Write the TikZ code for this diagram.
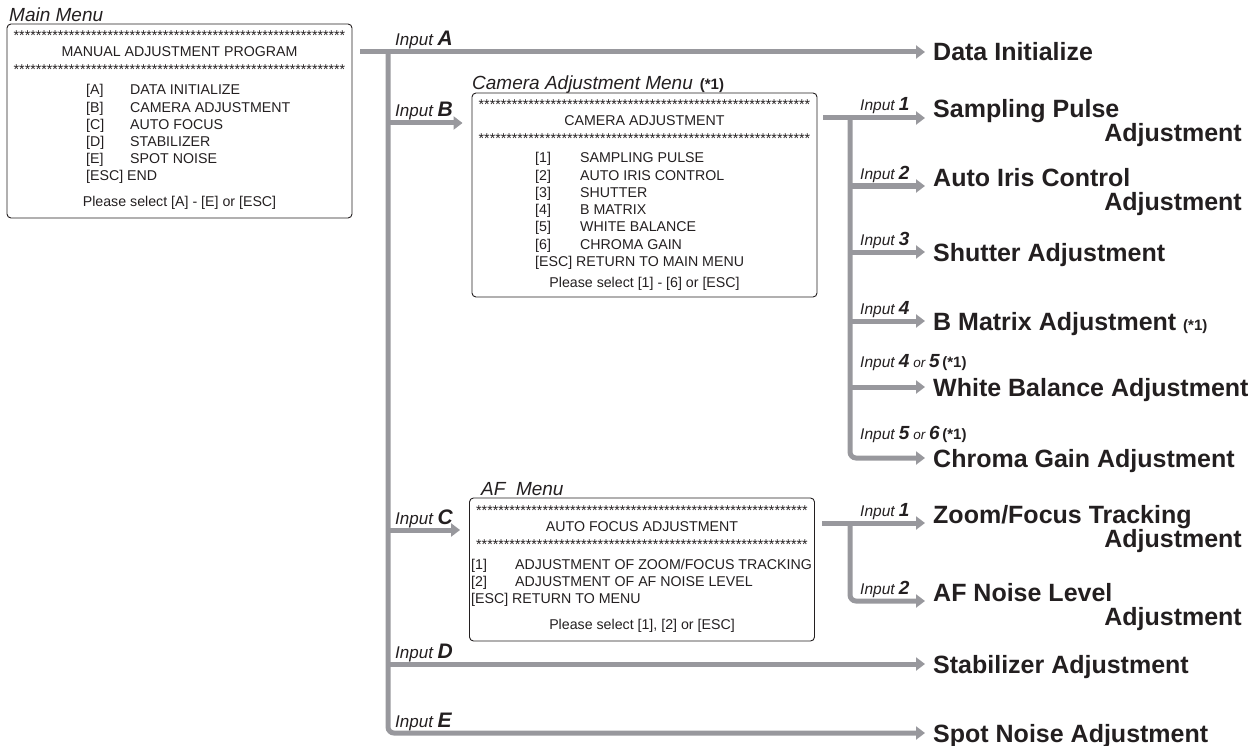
\documentclass[tikz,border=0pt]{standalone}
\usepackage{fontspec}
\setmainfont{Liberation Sans}
\usetikzlibrary{arrows.meta}
\definecolor{lineGray}{RGB}{152,152,157}
\definecolor{ink}{RGB}{35,31,32}
\newcommand\mfont{\fontsize{14.2}{17.2}\selectfont}
\newcommand\bfont{\fontsize{25}{25}\selectfont\bfseries}
\newcommand\tfont{\fontsize{19}{19}\selectfont\itshape}
\newcommand\starrow{************************************************************}
\newcommand\inL[1]{{\fontsize{17}{17}\selectfont\itshape Input }{\fontsize{21}{21}\selectfont\bfseries\itshape #1}}
\newcommand\inR[1]{{\fontsize{15.5}{15.5}\selectfont\itshape Input }{\fontsize{19}{19}\selectfont\bfseries\itshape #1}}
\newcommand\numR[1]{{\fontsize{19}{19}\selectfont\bfseries\itshape #1}}
\newcommand\orR{{\fontsize{13.5}{13.5}\selectfont\itshape\ or }}
\newcommand\noteR{{\fontsize{15}{15}\selectfont\bfseries (*1)}}
\begin{document}
\begin{tikzpicture}[x=1pt,y=-1pt,
  menubox/.style={draw=ink, line width=0.9pt, rounded corners=4pt, minimum width=345pt, inner sep=0pt},
  mtext/.style={anchor=base, inner sep=0pt, font=\mfont, text=ink},
  mlist/.style={anchor=base west, inner sep=0pt, font=\mfont, text=ink, align=left},
  conn/.style={draw=lineGray, line width=5pt},
  arr/.style={conn, -{Triangle[length=9pt,width=13pt]}},
  big/.style={anchor=west, inner xsep=8pt, inner ysep=0pt, text height=18pt, text depth=0pt, font=\bfont, text=ink},
  bigb/.style={anchor=base west, inner xsep=8pt, inner ysep=0pt, font=\bfont, text=ink},
  bige/.style={anchor=base east, inner sep=0pt, font=\bfont, text=ink},
  lbl/.style={anchor=base west, inner sep=0pt, text=ink}]
\useasboundingbox (0,0) rectangle (1257,746);

% ---------------- Main menu ----------------
\node[lbl, font=\tfont] (mLabel) at (9,22) {Main Menu};
\node[menubox, minimum height=194pt] (mainBox) at (179.5,121) {};
\node[mtext] (mS1) at (179.5,41) {\starrow};
\node[mtext] (mTitle) at (179.5,57) {MANUAL ADJUSTMENT PROGRAM};
\node[mtext] (mS2) at (179.5,75) {\starrow};
\node[mlist] (mList) at (86,95) {\begin{tabular}[t]{@{}p{44pt}@{}l@{}}
{[A]} & DATA INITIALIZE\\
{[B]} & CAMERA ADJUSTMENT\\
{[C]} & AUTO FOCUS\\
{[D]} & STABILIZER\\
{[E]} & SPOT NOISE\\
\multicolumn{2}{@{}l@{}}{[ESC] END}
\end{tabular}};
\node[mtext] (mPlease) at (179.5,207) {Please select [A] - [E] or [ESC]};

% ---------------- Camera menu ----------------
\node[lbl] (cLabel) at (472,90) {{\tfont Camera Adjustment Menu}\hspace{7pt}{\fontsize{15}{15}\selectfont\bfseries(*1)}};
\node[menubox, minimum height=204pt] (camBox) at (644.5,195) {};
\node[mtext] (cS1) at (644.5,110) {\starrow};
\node[mtext] (cTitle) at (644.5,126) {CAMERA ADJUSTMENT};
\node[mtext] (cS2) at (644.5,144) {\starrow};
\node[mlist] (cList) at (535,163) {\begin{tabular}[t]{@{}p{45pt}@{}l@{}}
{[1]} & SAMPLING PULSE\\
{[2]} & AUTO IRIS CONTROL\\
{[3]} & SHUTTER\\
{[4]} & B MATRIX\\
{[5]} & WHITE BALANCE\\
{[6]} & CHROMA GAIN\\
\multicolumn{2}{@{}l@{}}{[ESC] RETURN TO MAIN MENU}
\end{tabular}};
\node[mtext] (cPlease) at (644.5,287) {Please select [1] - [6] or [ESC]};

% ---------------- AF menu ----------------
\node[lbl, font=\tfont] (aLabel) at (481,495) {AF\ \ Menu};
\node[menubox, minimum height=143pt] (afBox) at (642,569.5) {};
\node[mtext] (aS1) at (642,515) {\starrow};
\node[mtext] (aTitle) at (642,531) {AUTO FOCUS ADJUSTMENT};
\node[mtext] (aS2) at (642,549) {\starrow};
\node[mlist] (aList) at (471,569) {\begin{tabular}[t]{@{}p{44pt}@{}l@{}}
{[1]} & ADJUSTMENT OF ZOOM/FOCUS TRACKING\\
{[2]} & ADJUSTMENT OF AF NOISE LEVEL\\
\multicolumn{2}{@{}l@{}}{[ESC] RETURN TO MENU}
\end{tabular}};
\node[mtext] (aPlease) at (642,629) {Please select [1], [2] or [ESC]};

% ---------------- Result labels ----------------
\node[big] (dataInit) at (925,52) {Data Initialize};
\node[bigb] (samp1) at (925,118) {Sampling Pulse};
\node[bige] (samp2) at (1242,142) {Adjustment};
\node[bigb] (iris1) at (925,186) {Auto Iris Control};
\node[bige] (iris2) at (1242,210) {Adjustment};
\node[big] (shut) at (925,252) {Shutter Adjustment};
\node[big] (bmat) at (925,321) {B Matrix Adjustment \noteR};
\node[big] (wb) at (925,387) {White Balance Adjustment};
\node[big] (chroma) at (925,458) {Chroma Gain Adjustment};
\node[bigb] (zf1) at (925,523) {Zoom/Focus Tracking};
\node[bige] (zf2) at (1242,547) {Adjustment};
\node[bigb] (afn1) at (925,601) {AF Noise Level};
\node[bige] (afn2) at (1242,625) {Adjustment};
\node[big] (stab) at (925,664) {Stabilizer Adjustment};
\node[big] (spot) at (925,733) {Spot Noise Adjustment};

% ---------------- Input labels ----------------
\node[lbl] (inA) at (395,46) {\inL{A}};
\node[lbl] (inB) at (395,117) {\inL{B}};
\node[lbl] (inC) at (395,524) {\inL{C}};
\node[lbl] (inD) at (395,658) {\inL{D}};
\node[lbl] (inE) at (395,727) {\inL{E}};
\node[lbl] (in1) at (860,111) {\inR{1}};
\node[lbl] (in2) at (860,179) {\inR{2}};
\node[lbl] (in3) at (860,245) {\inR{3}};
\node[lbl] (in4) at (860,314) {\inR{4}};
\node[lbl] (in45) at (860,367) {\inR{4}\orR\numR{5}\ \noteR};
\node[lbl] (in56) at (860,439) {\inR{5}\orR\numR{6}\ \noteR};
\node[lbl] (af1) at (860,516) {\inR{1}};
\node[lbl] (af2) at (860,594) {\inR{2}};

% ---------------- Connectors: main trunk ----------------
\coordinate (aStart) at (360,52);
\coordinate (tTop) at (388,52);
\coordinate (tBot) at (388,733);
\coordinate (jB) at (388,123);
\coordinate (jC) at (388,530);
\coordinate (jD) at (388,664);
\draw[arr] (aStart) -- (dataInit.west);
\draw[arr, rounded corners=6pt] (tTop) -- (tBot) -- (spot.west);
\draw[arr, shorten >=9pt] (jB) -- (jB -| camBox.west);
\draw[arr, shorten >=9pt] (jC) -- (jC -| afBox.west);
\draw[arr] (jD) -- (stab.west);

% ---------------- Connectors: camera trunk ----------------
\coordinate (cOut) at (823,118);
\coordinate (cTop) at (850,118);
\coordinate (cBot) at (850,458);
\coordinate (c2) at (850,186);
\coordinate (c3) at (850,252);
\coordinate (c4) at (850,321);
\coordinate (c5) at (850,387);
\draw[arr] (cOut) -- (samp1.base west);
\draw[arr, rounded corners=6pt] (cTop) -- (cBot) -- (chroma.west);
\draw[arr] (c2) -- (iris1.base west);
\draw[arr] (c3) -- (shut.west);
\draw[arr] (c4) -- (bmat.west);
\draw[arr] (c5) -- (wb.west);

% ---------------- Connectors: AF trunk ----------------
\coordinate (fOut) at (822,523);
\coordinate (fTop) at (850,523);
\coordinate (fBot) at (850,601);
\draw[arr] (fOut) -- (zf1.base west);
\draw[arr, rounded corners=6pt] (fTop) -- (fBot) -- (afn1.base west);
\end{tikzpicture}
\end{document}
